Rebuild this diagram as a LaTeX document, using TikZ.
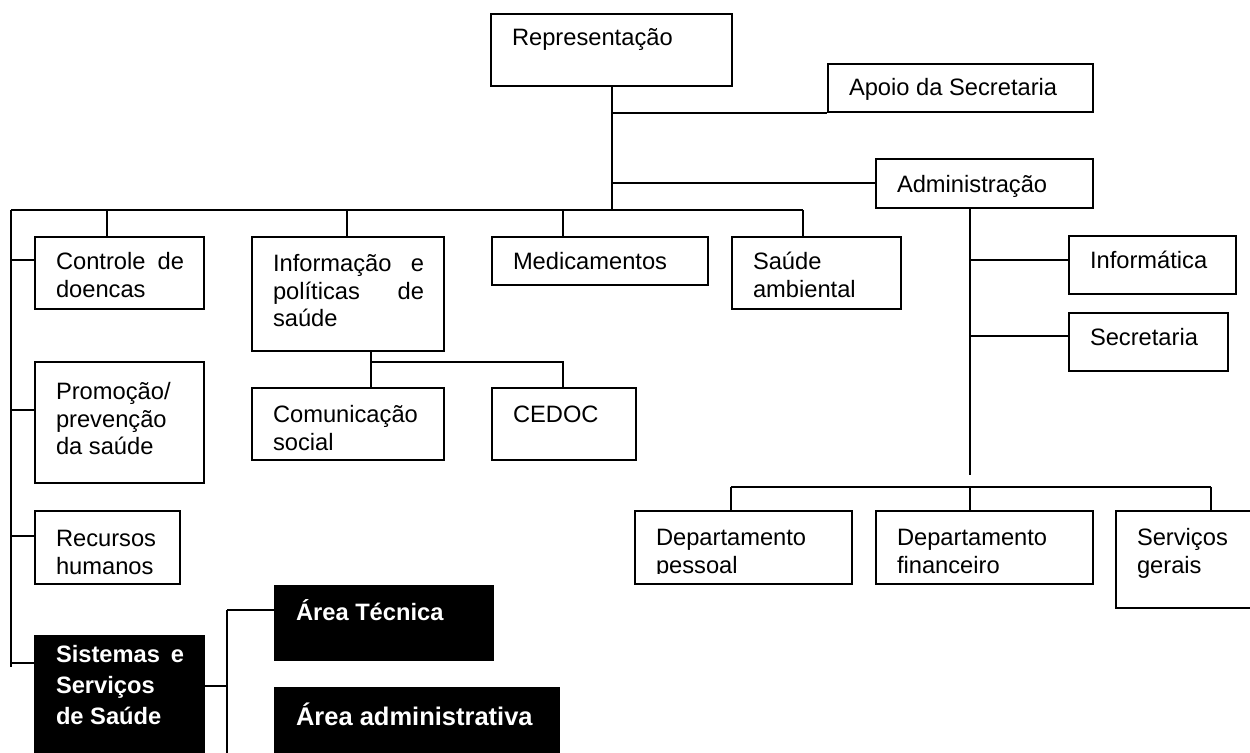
\documentclass[tikz,border=0pt]{standalone}
\usepackage{fontspec}
\setmainfont{Liberation Sans}
\usetikzlibrary{calc}

% box text: [first baseline]{width}{height}{text}
\newcommand\boxtxt[4][16.5pt]{%
  \parbox[t][#3][t]{#2}{\leftskip=10.5pt\rightskip=10pt plus 1fil\parfillskip=0pt plus 1fil
  \rule{0pt}{#1}#4}}

\tikzset{
  box/.style={draw, line width=1pt, inner sep=0pt, anchor=north west,
    font=\fontsize{11.85pt}{13.7pt}\selectfont},
  darkbox/.style={box, fill=black, text=white,
    font=\fontsize{11.85pt}{15.4pt}\selectfont\bfseries},
  link/.style={line width=1pt},
}

\begin{document}
\begin{tikzpicture}[x=0.5pt,y=-0.5pt]
\useasboundingbox (0,0) rectangle (1250,753);

% ---- boxes ----
\node[box] (rep)   at (490,13)  {\boxtxt[16pt]{120.5pt}{36pt}{Representação}};
\node[box] (apoio) at (827,63)  {\boxtxt[16pt]{132.5pt}{24pt}{Apoio da Secretaria}};
\node[box] (adm)   at (875,158) {\boxtxt[17pt]{108.5pt}{24.5pt}{Administração}};

\node[box] (ctrl)  at (34,236)  {\boxtxt{84.5pt}{36pt}{Controle\hfill de\\doencas}};
\node[box] (info)  at (251,236) {\boxtxt[17.5pt]{96pt}{57pt}{Informação\hfill e\\políticas\hfill de\\saúde}};
\node[box] (med)   at (491,236) {\boxtxt{108pt}{24pt}{Medicamentos}};
\node[box] (saude) at (731,236) {\boxtxt{84.5pt}{36pt}{Saúde\\ambiental}};

\node[box] (infor) at (1068,235) {\boxtxt{83.5pt}{29pt}{Informática}};
\node[box] (secr)  at (1068,312) {\boxtxt{79.5pt}{29pt}{Secretaria}};

\node[box] (com)   at (251,387) {\boxtxt[17.5pt]{96pt}{36pt}{Comunicação\\social}};
\node[box] (cedoc) at (491,387) {\boxtxt[17.5pt]{72pt}{36pt}{CEDOC}};

\node[box] (promo) at (34,361)  {\boxtxt[19pt]{84.5pt}{60.5pt}{Promoção/\\prevenção\\da saúde}};
\node[box] (recur) at (34,510)  {\boxtxt[18pt]{72.5pt}{36.5pt}{Recursos\\humanos}};

\node[box] (dp) at (634,510)  {\boxtxt[17.5pt]{108.5pt}{36.5pt}{Departamento\\pessoal}};
% the text frame of this box ends above its border: the second line is cut
\fill[white] ($(dp.south west)+(2.5,-1.5)$) rectangle ($(dp.south east)+(-2.5,-11)$);
\node[box] (df) at (875,510)  {\boxtxt[17.5pt]{108.5pt}{36.5pt}{Departamento\\financeiro}};
\node[box] (sg) at (1115,510) {\boxtxt[17.5pt]{75pt}{48.5pt}{Serviços\\gerais}};

\node[darkbox] (sist) at (34,635) {\boxtxt[13.5pt]{84.5pt}{65pt}{Sistemas\hfill e\\Serviços\\de Saúde}};
\node[darkbox] (tec)  at (274,585) {\boxtxt[17.5pt]{109pt}{37pt}{Área Técnica}};
\node[darkbox, font=\fontsize{12.75pt}{15.4pt}\selectfont\bfseries]
  (adma) at (274,687) {\boxtxt[19pt]{142pt}{39pt}{\mbox{Área administrativa}}};

% ---- junction points ----
\coordinate (r0) at (612,210);
\coordinate (bL) at (11,210);
\coordinate (bR) at (803,210);
\coordinate (d1) at (107,210);
\coordinate (d2) at (347,210);
\coordinate (d3) at (563,210);
\coordinate (bB) at (11,667);
\coordinate (l1) at (11,260);
\coordinate (l2) at (11,410);
\coordinate (l3) at (11,536);
\coordinate (l4) at (11,663);
\coordinate (i0) at (371,362);
\coordinate (i1) at (563,362);
\coordinate (a0) at (970,475);
\coordinate (a1) at (970,260);
\coordinate (a2) at (970,336);
\coordinate (a3) at (731,487);
\coordinate (a4) at (1211,487);
\coordinate (s0) at (227,686);
\coordinate (s1) at (227,610);
\coordinate (s2) at (227,765);

% ---- connectors ----
\draw[link] (rep.south -| r0) -- (r0);
\draw[link] (r0 |- apoio.south west) -- (apoio.south west);
\draw[link] (r0 |- adm.west) -- (adm.west);

\draw[link] (bL) -- (bR);
\draw[link] (d1) -- (d1 |- ctrl.north);
\draw[link] (d2) -- (d2 |- info.north);
\draw[link] (d3) -- (d3 |- med.north);
\draw[link] (bR) -- (bR |- saude.north);

\draw[link] (bL) -- (bB);
\draw[link] (l1) -- (l1 -| ctrl.west);
\draw[link] (l2) -- (l2 -| promo.west);
\draw[link] (l3) -- (l3 -| recur.west);
\draw[link] (l4) -- (l4 -| sist.west);

\draw[link] (i0 |- info.south) -- (i0 |- com.north);
\draw[link] (i0) -- (i1) -- (i1 |- cedoc.north);

\draw[link] (a0 |- adm.south) -- (a0);
\draw[link] (a1) -- (a1 -| infor.west);
\draw[link] (a2) -- (a2 -| secr.west);
\draw[link] (a3) -- (a4);
\draw[link] (a3) -- (a3 |- dp.north);
\draw[link] (a0 |- a3) -- (a0 |- df.north);
\draw[link] (a4) -- (a4 |- sg.north);

\draw[link] (sist.east |- s0) -- (s0);
\draw[link] (s1) -- (s2);
\draw[link] (s1) -- (s1 -| tec.west);
\end{tikzpicture}
\end{document}
